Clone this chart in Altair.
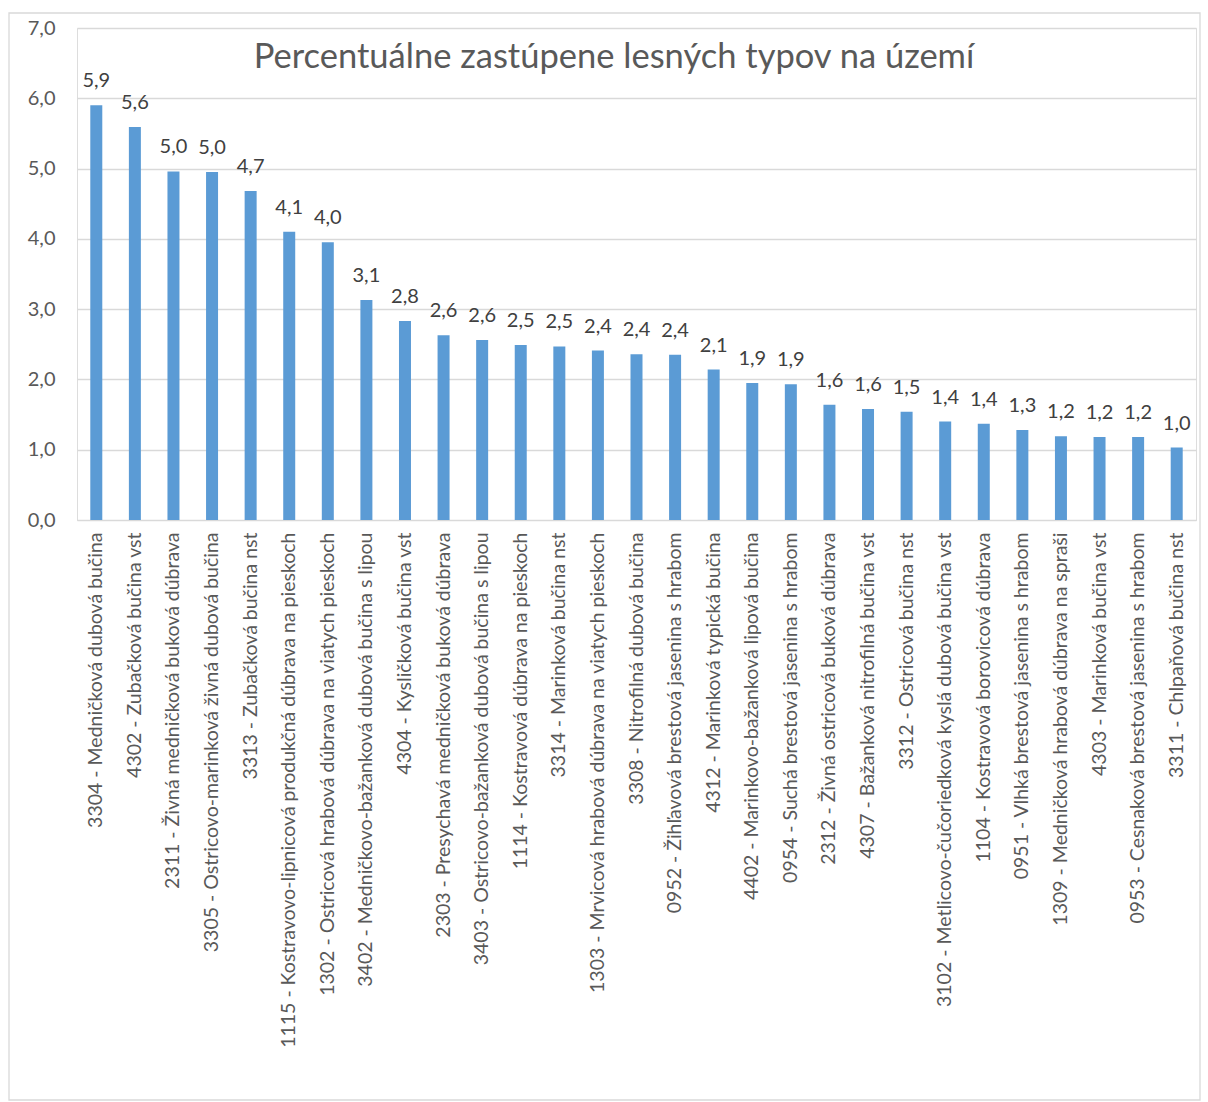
import altair as alt
import pandas as pd

categories = [
    "3304 - Medničková dubová bučina",
    "4302 - Zubačková bučina vst",
    "2311 - Živná medničková buková dúbrava",
    "3305 - Ostricovo-marinková živná dubová bučina",
    "3313 - Zubačková bučina nst",
    "1115 - Kostravovo-lipnicová produkčná dúbrava na pieskoch",
    "1302 - Ostricová hrabová dúbrava na viatych pieskoch",
    "3402 - Medničkovo-bažanková dubová bučina s lipou",
    "4304 - Kysličková bučina vst",
    "2303 - Presychavá medničková buková dúbrava",
    "3403 - Ostricovo-bažanková dubová bučina s lipou",
    "1114 - Kostravová dúbrava na pieskoch",
    "3314 - Marinková bučina nst",
    "1303 - Mrvicová hrabová dúbrava na viatych pieskoch",
    "3308 - Nitrofilná dubová bučina",
    "0952 - Žihľavová brestová jasenina s hrabom",
    "4312 - Marinková typická bučina",
    "4402 - Marinkovo-bažanková lipová bučina",
    "0954 - Suchá brestová jasenina s hrabom",
    "2312 - Živná ostricová buková dúbrava",
    "4307 - Bažanková nitrofilná bučina vst",
    "3312 - Ostricová bučina nst",
    "3102 - Metlicovo-čučoriedková kyslá dubová bučina vst",
    "1104 - Kostravová borovicová dúbrava",
    "0951 - Vlhká brestová jasenina s hrabom",
    "1309 - Medničková hrabová dúbrava na spraši",
    "4303 - Marinková bučina vst",
    "0953 - Cesnaková brestová jasenina s hrabom",
    "3311 - Chlpaňová bučina nst",
]
values = [5.90, 5.59, 4.96, 4.95, 4.68, 4.10, 3.95, 3.13, 2.83, 2.63,
          2.56, 2.49, 2.47, 2.41, 2.36, 2.35, 2.14, 1.95, 1.93, 1.64,
          1.58, 1.54, 1.40, 1.37, 1.28, 1.19, 1.18, 1.18, 1.03]
title_text = "Percentuálne zastúpene lesných typov na území"

FONT = "Lato"
GREY = "#595959"

df = pd.DataFrame({"typ": categories, "v": values})

base = alt.Chart(df)

bars = base.mark_bar(color="#5b9bd5", size=12).encode(
    x=alt.X("typ:N", sort=categories, title=None,
            axis=alt.Axis(labelAngle=-90, labelFontSize=19.5, labelColor=GREY,
                          labelFont=FONT, labelPadding=12, ticks=False,
                          domainColor="#d9d9d9", labelLimit=600,
                          labelOverlap=False)),
    y=alt.Y("v:Q", title=None,
            scale=alt.Scale(domain=[0, 7], nice=False),
            axis=alt.Axis(values=[0, 1, 2, 3, 4, 5, 6, 7],
                          labelExpr="replace(format(datum.value, '.1f'), '.', ',')",
                          labelFontSize=20, labelColor=GREY, labelFont=FONT,
                          labelPadding=22, ticks=False, domain=False,
                          gridColor="#d9d9d9", gridWidth=1.3)),
)

labels = base.transform_calculate(
    lab="replace(format(datum.v, '.1f'), '.', ',')"
).mark_text(dy=-24, fontSize=20, color="#404040", font=FONT).encode(
    x=alt.X("typ:N", sort=categories),
    y="v:Q",
    text="lab:N",
)

title = alt.Chart(alt.Data(values=[{"t": title_text}])).mark_text(
    fontSize=34.5, color=GREY, font=FONT, align="center", baseline="middle"
).encode(
    text="t:N", x=alt.value(537), y=alt.value(30)
)

border = alt.Chart(alt.Data(values=[{"a": 1}])).mark_rect(
    fill="transparent", stroke="#d9d9d9", strokeWidth=1.3
).encode(
    x=alt.value(-68), x2=alt.value(1123), y=alt.value(-15), y2=alt.value(1072)
)

chart = alt.layer(border, bars, labels, title).properties(
    width=1119, height=492,
    autosize=alt.AutoSizeParams(type="none"),
    padding={"left": 77, "top": 28, "right": 12, "bottom": 582},
).configure_view(stroke=None).configure(background="white")

chart.save("out.html", embed_options={"renderer": "svg", "actions": False})
